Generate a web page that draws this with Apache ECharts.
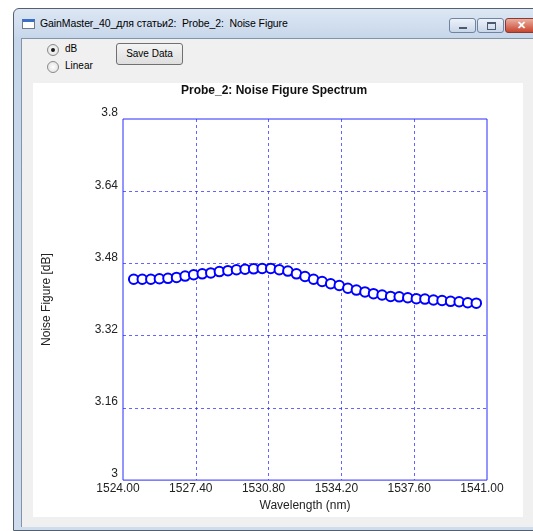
<!DOCTYPE html>
<html>
<head>
<meta charset="utf-8">
<script src="https://cdn.jsdelivr.net/npm/echarts@6/dist/echarts.min.js"></script>
<style>
  body { margin:0; width:533px; height:531px; overflow:hidden; background:#fff; font-family:"Liberation Sans", Arial, sans-serif; }
  .abs { position:absolute; box-sizing:border-box; }
  #win { left:13px; top:8px; width:540px; height:523px; border:1px solid #55606e; border-radius:6px 6px 0 0;
         background:linear-gradient(to bottom, #dde7f4 0px, #c6d6ea 30px, #cfdcee 100%); }
  #client { left:21px; top:38px; width:520px; height:489px; background:#f0f0f0; border-top:1px solid #8393a8; border-left:1px solid #8393a8; }
  #caption { left:40px; top:17px; font-size:10.5px; letter-spacing:-0.1px; color:#000; white-space:nowrap; }
  #icon { left:22px; top:19px; width:13px; height:10px; background:#fff; border:1px solid #6d7a8a; border-top:3px solid #3a6fc4; }
  .cbtn { top:18px; height:15px; border:1px solid #7084a0; border-radius:3px; background:linear-gradient(#edf2f9, #c9d6e8); }
  #bmin { left:449px; width:27px; }
  #bmax { left:477px; width:27px; }
  #bclose { left:505px; width:32px; border-color:#8a3a2e; background:linear-gradient(#eab0a2, #c8452e); color:#fff; font-size:11px; font-weight:bold; text-align:center; line-height:13px; }
  #bmin::after { content:""; position:absolute; left:9px; top:8px; width:8px; height:2px; background:#4a5a70; }
  #bmax::after { content:""; position:absolute; left:9px; top:3px; width:7px; height:5px; border:1px solid #4a5a70; border-top-width:2px; }
  .radio { width:12px; height:12px; border-radius:50%; border:1px solid #8a8a8a; background:radial-gradient(#ffffff, #dcdcdc); }
  .radio.on::after { content:""; position:absolute; left:3px; top:3px; width:4px; height:4px; border-radius:50%; background:#1a1a1a; }
  .lbl { font-size:10px; color:#000; }
  #save { left:116px; top:43px; width:67px; height:22px; border:1px solid #707070; border-radius:3px;
          background:linear-gradient(#f4f4f4, #dedede); font-size:10px; text-align:center; line-height:20px; color:#000; }
  #chart { left:33px; top:83px; width:490px; height:434px; background:#fff; }
</style>
</head>
<body>
<div id="win" class="abs"></div>
<div id="icon" class="abs"></div>
<div id="caption" class="abs">GainMaster_40_для статьи2:&nbsp; Probe_2:&nbsp; Noise Figure</div>
<div id="bmin" class="abs cbtn"></div>
<div id="bmax" class="abs cbtn"></div>
<div id="bclose" class="abs cbtn">✕</div>
<div id="client" class="abs"></div>
<div class="abs radio on" style="left:47px;top:44px;"></div>
<div class="abs lbl" style="left:65px;top:43px;">dB</div>
<div class="abs radio" style="left:47px;top:61px;"></div>
<div class="abs lbl" style="left:65px;top:60px;">Linear</div>
<div id="save" class="abs">Save Data</div>
<div id="chart" class="abs"></div>
<script>
// wavelength, nm
var wavelength = [1524.5,1524.9,1525.3,1525.7,1526.1,1526.5,1526.9,1527.3,1527.7,1528.1,
	1528.5,1528.9,1529.3,1529.7,1530.1,1530.5,1530.9,1531.3,1531.7,1532.1,
	1532.5,1532.9,1533.3,1533.7,1534.1,1534.5,1534.9,1535.3,1535.7,1536.1,
	1536.5,1536.9,1537.3,1537.7,1538.1,1538.5,1538.9,1539.3,1539.7,1540.1,1540.5];
// noise figure, dB
var noiseFigure = [3.445,3.445,3.445,3.446,3.447,3.449,3.452,3.455,3.457,3.459,
	3.462,3.464,3.466,3.467,3.468,3.469,3.469,3.466,3.463,3.457,
	3.451,3.445,3.440,3.435,3.431,3.425,3.421,3.417,3.413,3.410,
	3.407,3.406,3.404,3.402,3.401,3.399,3.398,3.396,3.395,3.393,3.392];
var xTicks = [1524, 1527.4, 1530.8, 1534.2, 1537.6, 1541];
var xTickLabels = ['1524.00', '1527.40', '1530.80', '1534.20', '1537.60', '1541.00'];
var yTicks = [3, 3.16, 3.32, 3.48, 3.64, 3.8];
var yTickLabels = ['3', '3.16', '3.32', '3.48', '3.64', '3.8'];

function tickLabel(ticks, labels) {
	return function (v) {
		for (var i = 0; i < ticks.length; i++) {
			if (Math.abs(ticks[i] - v) < 1e-6) return labels[i];
		}
		return '';
	};
}

var pts = [];
for (var i = 0; i < wavelength.length; i++) {
	pts.push([wavelength[i], noiseFigure[i]]);
}

var myChart = echarts.init(document.getElementById('chart'));
var blue = '#2b2bff';
var gridBlue = '#3030ff';
var txt = '#222';
myChart.setOption({
	animation: false,
	backgroundColor: '#fff',
	title: {
		text: 'Probe_2: Noise Figure Spectrum',
		left: 148,
		top: 2,
		padding: 0,
		textStyle: { fontFamily: 'Liberation Sans', fontSize: 12, fontWeight: 'bold', color: '#111' }
	},
	grid: {
		left: 89, right: 36, top: 36, bottom: 35,
		show: true,
		borderColor: blue,
		borderWidth: 1
	},
	xAxis: {
		type: 'value',
		min: 1524,
		max: 1541,
		name: 'Wavelength (nm)',
		nameLocation: 'middle',
		nameGap: 18,
		nameTextStyle: { fontFamily: 'Liberation Sans', fontSize: 12, color: txt },
		axisLine: { show: false },
		axisTick: { show: false, customValues: xTicks },
		axisLabel: {
			customValues: xTicks,
			formatter: tickLabel(xTicks, xTickLabels),
			fontFamily: 'Liberation Sans', fontSize: 12, color: txt,
			margin: 3,
			padding: [0, 10, 0, 0]
		},
		splitLine: { show: true, showMinLine: false, showMaxLine: false, lineStyle: { color: gridBlue, type: [3, 3], width: 1, opacity: 0.75 } }
	},
	yAxis: {
		type: 'value',
		min: 3,
		max: 3.8,
		name: 'Noise Figure [dB]',
		nameLocation: 'middle',
		nameRotate: 90,
		nameGap: 70,
		nameTextStyle: { fontFamily: 'Liberation Sans', fontSize: 12, color: txt },
		axisLine: { show: false },
		axisTick: { show: false, customValues: yTicks },
		axisLabel: {
			customValues: yTicks,
			formatter: tickLabel(yTicks, yTickLabels),
			fontFamily: 'Liberation Sans', fontSize: 12, color: txt,
			margin: 5,
			verticalAlign: 'bottom'
		},
		splitLine: { show: true, showMinLine: false, showMaxLine: false, lineStyle: { color: gridBlue, type: [3, 3], width: 1, opacity: 0.75 } }
	},
	series: [{
		name: 'Noise Figure',
		type: 'line',
		data: pts,
		symbol: 'emptyCircle',
		symbolSize: 9.5,
		lineStyle: { color: '#0000ff', width: 2 },
		itemStyle: { color: '#0000ff', borderColor: '#0000ff', borderWidth: 2 }
	}]
});
</script>
</body>
</html>
